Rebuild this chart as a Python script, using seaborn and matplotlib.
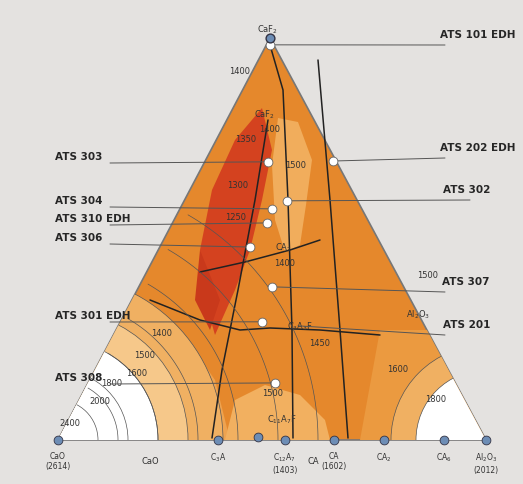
import numpy as np
import matplotlib
matplotlib.use("Agg")
import matplotlib.pyplot as plt
import seaborn as sns
import pandas as pd
from matplotlib.patches import Polygon, Circle

sns.set_style("white")
plt.rcParams['font.family'] = ['DejaVu Sans']

# ternary compositions (CaF2 fraction, Al2O3 fraction) of sample points
samples = ["ATS 101 EDH", "ATS 202 EDH", "ATS 303", "ATS 302", "ATS 304",
           "ATS 310 EDH", "ATS 306", "ATS 307", "ATS 301 EDH", "ATS 308", "ATS 201"]
caf2 = [0.983, 0.694, 0.692, 0.595, 0.575, 0.540, 0.480, 0.381, 0.294, 0.142, 0.284]
al2o3 = [0.008, 0.299, 0.148, 0.240, 0.215, 0.221, 0.211, 0.311, 0.331, 0.437, 0.420]
label_side = ["R", "R", "L", "R", "L", "L", "L", "R", "L", "L", "R"]
label_y = [35, 148, 157, 190, 201, 219, 238, 282, 316, 378, 325]

# bottom-edge compounds (Al2O3 fraction)
edge_names = ["CaO\n(2614)", "C$_3$A", "C$_{12}$A$_7$\n(1403)", "CA\n(1602)", "CA$_2$", "CA$_6$", "Al$_2$O$_3$\n(2012)"]
edge_b = [0.0, 0.374, 0.530, 0.645, 0.762, 0.902, 1.0]

V_CaO, V_Al, V_F = np.array([58, 440]), np.array([486, 440]), np.array([270, 38])
def tern(b, c):
    a = 1 - b - c
    return a * V_CaO + b * V_Al + c * V_F

fig = plt.figure(figsize=(5.23, 4.84), dpi=100)
ax = fig.add_axes([0, 0, 1, 1])
ax.set_xlim(0, 523); ax.set_ylim(484, 0); ax.axis("off")
fig.patch.set_facecolor("#e4e2e0")

tri = Polygon([V_CaO, V_Al, V_F], closed=True, fc="#e5882c", ec="#777777", lw=1.2, zorder=1)
ax.add_patch(tri)
def field(pts, color, z=2):
    p = Polygon(pts, closed=True, fc=color, ec="none", zorder=z)
    ax.add_patch(p); p.set_clip_path(tri)
def disc(c, r, color, z=2):
    p = Circle(c, r, fc=color, ec="#555555", lw=0.5, zorder=z)
    ax.add_patch(p); p.set_clip_path(tri)

field([(150, 440), (120, 350), (180, 330), (215, 380), (230, 440)], "#eea350")
disc((58, 440), 165, "#f0b062"); disc((58, 440), 130, "#f6c88a"); disc((58, 440), 100, "#ffffff")
disc((58, 440), 70, "#ffffff"); disc((58, 440), 40, "#ffffff")
field([(360, 440), (380, 330), (430, 330), (486, 440)], "#eb9a40")
disc((486, 440), 95, "#f0b062"); disc((486, 440), 70, "#ffffff")
field([(225, 440), (235, 400), (265, 385), (300, 395), (325, 420), (330, 440)], "#f2b060")
field([(278, 118), (298, 122), (312, 160), (306, 205), (300, 245), (285, 252), (275, 220), (272, 165)], "#f1ad5c")
field([(262, 108), (235, 140), (212, 190), (200, 250), (205, 300), (215, 335), (235, 290),
       (250, 250), (262, 200), (272, 150)], "#d4421f", 3)
field([(200, 250), (195, 300), (210, 330), (220, 300)], "#c9391b", 3)

# phase boundaries
for xs, ys in [([270, 283, 288, 292, 293], [45, 90, 200, 330, 438]),
               ([268, 255, 238, 222, 212], [120, 200, 290, 370, 438]),
               ([200, 245, 290, 320], [272, 262, 250, 240]),
               ([318, 330, 340, 348], [60, 200, 330, 438]),
               ([150, 200, 240, 270, 320, 380], [300, 320, 330, 328, 330, 335])]:
    ax.plot(xs, ys, color="#222222", lw=1.1, zorder=4)
for r in range(60, 300, 40):
    th = np.linspace(-np.pi/3, 0, 50)
    ln, = ax.plot(58 + r*np.cos(th), 440 + r*np.sin(th), color="#555", lw=0.5, zorder=4)
    ln.set_clip_path(tri)

# isotherm labels
for t, x, y in [("CaF$_2$", 268, 30), ("1400", 240, 72), ("CaF$_2$", 265, 115), ("1400", 270, 130),
                ("1350", 246, 139), ("1300", 238, 186), ("1250", 236, 217), ("1500", 296, 165),
                ("CA$_2$", 283, 248), ("1400", 285, 264), ("C$_3$A$_3$F", 300, 327), ("1450", 320, 343),
                ("1400", 162, 333), ("1500", 145, 355), ("1600", 137, 373), ("1800", 112, 384),
                ("2000", 100, 401), ("2400", 70, 423), ("1500", 273, 393), ("C$_{11}$A$_7$F", 282, 420),
                ("Al$_2$O$_3$", 418, 315), ("1500", 428, 276), ("1600", 398, 370), ("1800", 436, 400)]:
    ax.text(x, y, t, fontsize=6, ha="center", va="center", color="#333", zorder=5)

# points
df = pd.DataFrame({"name": samples, "b": al2o3, "c": caf2})
xy = np.array([tern(b, c) for b, c in zip(df.b, df.c)])
df["x"], df["y"] = xy[:, 0], xy[:, 1]
sns.scatterplot(data=df.iloc[:10], x="x", y="y", s=40, color="white", edgecolor="#666",
                linewidth=0.6, ax=ax, zorder=7, legend=False)
ax.set_xlim(0, 523); ax.set_ylim(484, 0)

for i, row in df.iterrows():
    if label_side[i] == "L":
        ax.plot([110, row.x], [label_y[i] + 6, row.y], color="#555", lw=0.7, zorder=6)
        ax.text(55, label_y[i], row["name"], fontsize=7.5, fontweight="bold", va="center", ha="left", zorder=8)
    else:
        ax.plot([row.x, 445 if i != 3 else 470], [row.y, label_y[i] + 10], color="#555", lw=0.7, zorder=6)
        ax.text(516 if i < 2 else 490, label_y[i], row["name"], fontsize=7.5, fontweight="bold",
                va="center", ha="right", zorder=8)

ex = [tern(b, 0)[0] for b in edge_b]
sns.scatterplot(x=ex + [258], y=[440]*len(ex) + [437], s=40,
                color="#6d8db5", edgecolor="#334", linewidth=0.6, ax=ax, zorder=7, legend=False)
ax.scatter([270], [38], s=40, color="#6d8db5", edgecolor="#334", zorder=7)
ax.set_xlim(0, 523); ax.set_ylim(484, 0)
for name, x in zip(edge_names, ex):
    ax.text(x, 452, name, fontsize=5.5, ha="center", va="top", color="#333")
ax.text(150, 462, "CaO", fontsize=6, ha="center", va="center", color="#333")
ax.text(313, 462, "CA", fontsize=6, ha="center", va="center", color="#333")

fig.savefig("out.png", dpi=100)
